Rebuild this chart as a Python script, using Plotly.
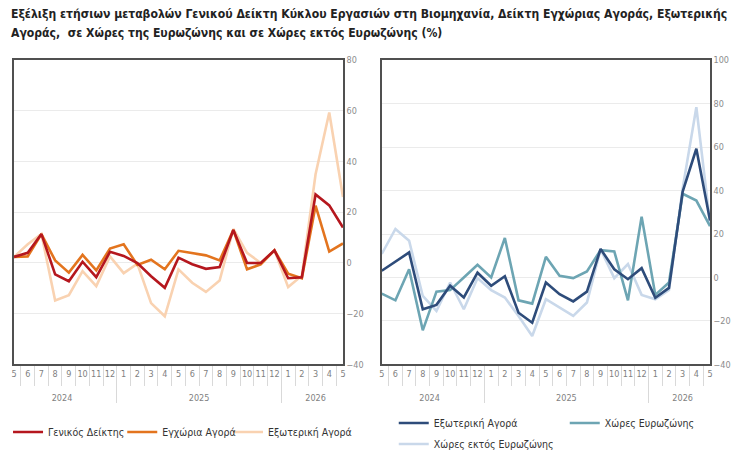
import plotly.graph_objects as go

years = ["2024"] * 8 + ["2025"] * 12 + ["2026"] * 5
months = ["5", "6", "7", "8", "9", "10", "11", "12",
          "1", "2", "3", "4", "5", "6", "7", "8", "9", "10", "11", "12",
          "1", "2", "3", "4", "5"]

# Left panel
general = [2.4, 4.0, 11.4, -4.5, -7.2, 0.5, -5.6, 4.4, 2.8, 0.0, -5.2, -9.8, 2.1,
           -0.5, -2.3, -1.6, 13.0, 0.0, 0.0, 5.0, -6.0, -5.6, 27.0, 22.7, 14.0]
domestic = [2.4, 2.6, 11.4, 1.0, -3.8, 3.2, -2.9, 5.7, 7.4, -0.8, 1.3, -2.5, 4.8,
            3.8, 3.0, 1.0, 13.0, -2.5, -0.5, 5.0, -4.2, -6.0, 22.6, 4.5, 7.7]
external = [2.4, 7.4, 11.4, -14.8, -12.7, -3.2, -9.1, 2.6, -4.0, -0.3, -15.8, -21.0, -2.5,
            -7.8, -11.4, -6.9, 13.4, 4.0, 0.0, 5.0, -9.5, -5.0, 35.0, 59.3, 26.0]

# Right panel
ext_market = [3.1, 7.2, 11.5, -14.6, -12.6, -3.8, -9.2, 2.2, -3.8, 0.6, -16.2, -20.8, -2.3,
              -7.7, -11.0, -6.5, 13.1, 3.8, -0.8, 4.3, -9.3, -4.8, 39.5, 59.2, 26.2]
euro = [-7.4, -10.5, 3.8, -24.3, -6.5, -5.8, 0.0, 5.8, 0.0, 18.2, -10.5, -12.0, 9.5,
        0.8, -0.3, 2.8, 12.6, 12.0, -10.5, 28.0, -8.0, -2.3, 38.5, 35.4, 23.6]
non_euro = [10.8, 22.3, 16.9, -8.5, -15.4, -2.3, -14.6, -0.3, -5.8, -9.2, -17.7, -26.9, -10.0,
            -13.8, -17.7, -11.5, 13.0, -0.3, 6.2, -8.0, -10.0, -5.8, 41.0, 78.3, 25.0]

# Plotly orders inner categories of a multicategory axis by first appearance
# across all groups, so give each year's month labels a distinct (invisible) wrapper.
# A trailing empty line drops the year row a little lower, as in the original.
wrap = {"2024": "{}<br> ", "2025": "<span>{}</span><br> ",
        "2026": "<span><span>{}</span></span><br> "}
month_labels = [wrap[y].format(m) for y, m in zip(years, months)]
x = [years, month_labels]

FONT = "DejaVu Sans Condensed, DejaVu Sans, sans-serif"

fig = go.Figure()

def add(y, name, color, xa, ya, legend):
    fig.add_trace(go.Scatter(
        x=x, y=y, name=name, mode="lines", showlegend=True,
        line=dict(color=color, width=2.6),
        xaxis=xa, yaxis=ya, legend=legend,
    ))

add(external, "Εξωτερική Αγορά", "#F9D2B1", "x", "y", "legend3")
add(domestic, "Εγχώρια Αγορά", "#E3741E", "x", "y", "legend2")
add(general, "Γενικός Δείκτης", "#B5171E", "x", "y", "legend")

add(non_euro, "Χώρες εκτός Ευρωζώνης", "#C9D8EA", "x2", "y2", "legend6")
add(euro, "Χώρες Ευρωζώνης", "#6DA5B3", "x2", "y2", "legend5")
add(ext_market, "Εξωτερική Αγορά", "#2E4C7A", "x2", "y2", "legend4")

xaxis_common = dict(
    type="multicategory",
    showline=True, mirror=True, linecolor="#505050", linewidth=1.5,
    showgrid=False, ticks="outside", tickson="boundaries", ticklen=20,
    tickcolor="#d9d9d9", showdividers=True, dividercolor="#d9d9d9", dividerwidth=1,
    tickfont=dict(family=FONT, size=9, color="#7f7f7f"), tickangle=0,
    fixedrange=True,
)
yaxis_common = dict(
    side="right", showline=True, mirror=True, linecolor="#505050", linewidth=1.5,
    showgrid=True, gridcolor="#ebebeb", gridwidth=1, zeroline=False,
    dtick=20, ticks="", tickfont=dict(family=FONT, size=9, color="#8c8c8c"),
    fixedrange=True,
)

y_dom = [0.199, 0.868]
LEGFONT = dict(family=FONT, size=10.5, color="#333333")
leg_common = dict(orientation="h", xanchor="left", yanchor="middle",
                  font=LEGFONT, itemwidth=30, bgcolor="rgba(0,0,0,0)")

TITLE_FONT = dict(family=FONT, size=12.1, color="#222222")

fig.update_layout(
    width=750, height=455,
    showlegend=True,
    margin=dict(l=0, r=0, t=0, b=0, autoexpand=False),
    paper_bgcolor="white", plot_bgcolor="white",
    font=dict(family=FONT, color="#333333"),
    xaxis=dict(domain=[0.0187, 0.4573], anchor="y", **xaxis_common),
    yaxis=dict(domain=y_dom, anchor="x", range=[-40, 80], **yaxis_common),
    xaxis2=dict(domain=[0.509, 0.9467], anchor="y2", **xaxis_common),
    yaxis2=dict(domain=y_dom, anchor="x2", range=[-40, 100], **yaxis_common),
    legend=dict(x=0.0107, y=0.0505, **leg_common),
    legend2=dict(x=0.163, y=0.0505, **leg_common),
    legend3=dict(x=0.304, y=0.0505, **leg_common),
    legend4=dict(x=0.525, y=0.0703, **leg_common),
    legend5=dict(x=0.753, y=0.0703, **leg_common),
    legend6=dict(x=0.525, y=0.0242, **leg_common),
    annotations=[
        dict(text="<b>Εξέλιξη ετήσιων μεταβολών Γενικού Δείκτη Κύκλου Εργασιών στη Βιομηχανία, "
                  "Δείκτη Εγχώριας Αγοράς, Εξωτερικής</b>",
             xref="paper", yref="paper", x=0.012, y=0.969, xanchor="left", yanchor="middle",
             showarrow=False, font=TITLE_FONT),
        dict(text="<b>Αγοράς,  σε Χώρες της Ευρωζώνης και σε Χώρες εκτός Ευρωζώνης (%)</b>",
             xref="paper", yref="paper", x=0.012, y=0.9275, xanchor="left", yanchor="middle",
             showarrow=False, font=TITLE_FONT),
    ],
)

fig.write_html("out.html")
